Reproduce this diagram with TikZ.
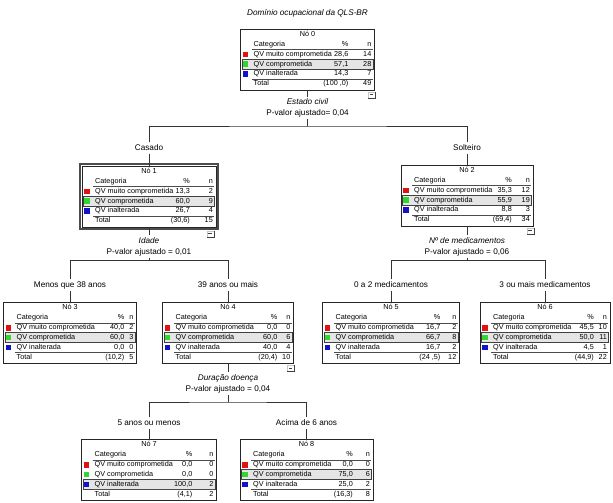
\documentclass[tikz,border=0pt]{standalone}
\usepackage{fontspec}
\setmainfont{Liberation Sans}
\usetikzlibrary{positioning}
\definecolor{cor1}{RGB}{224,18,18}
\definecolor{cor2}{RGB}{50,214,50}
\definecolor{cor3}{RGB}{18,18,200}
\newcommand{\tabfont}{\fontsize{7.25}{8}\selectfont}
\newcommand{\rotfont}{\fontsize{8.2}{9}\selectfont}
% #1 no, #2 topo, #3 largura, #4 coluna %, #5 linha modal, #6 dados
\newcommand{\tabno}[6]{%
  \node[noh,minimum width=#3pt] (n#1) at #2 {};
  \begin{scope}[shift={(n#1.north west)}]
    \draw[destaque] (1.5,15.5+9.8*#5-4.9) rectangle (#3-1.5,15.5+9.8*#5+4.9);
    \draw[regra] (11,20.5) -- (#3-2,20.5);
    \draw[regra] (11,50) -- (#3-2,50);
    \node[cel,anchor=center] (n#1t) at (#3/2,5.5) {Nó #1};
    \node[cel] (n#1c) at (13,15.5) {Categoria};
    \node[cel,anchor=east] (n#1p) at (#3-#4,15.5) {\%};
    \node[cel,anchor=east] (n#1n) at (#3-3,15.5) {n};
    \foreach \pc/\nn [count=\i] in {#6}{
      \ifnum\i<4
        \fill[cor\i] (2.3,15.5+9.8*\i-2.7) rectangle ++(5.4,5.4);
      \fi
      \node[cel] (n#1r\i) at (13,15.5+9.8*\i)
        {\ifcase\i\or QV muito comprometida\or QV comprometida\or QV inalterada\or Total\fi};
      \node[cel,anchor=east] (n#1p\i) at (#3-#4,15.5+9.8*\i) {\pc};
      \node[cel,anchor=east] (n#1n\i) at (#3-3,15.5+9.8*\i) {\nn};
    }
  \end{scope}}
\begin{document}
\begin{tikzpicture}[x=1pt,y=-1pt,
noh/.style={draw=black!85,line width=0.6pt,minimum height=61pt,anchor=north,inner sep=0pt,outer sep=0pt},
destaque/.style={fill=gray!20,draw=black!75,line width=0.5pt},
regra/.style={draw=black!70,line width=0.6pt},
cel/.style={font=\tabfont,inner sep=0pt,text height=5.3pt,text depth=1.4pt,anchor=west},
rot/.style={font=\rotfont,inner sep=1.5pt,text height=6pt,text depth=1.7pt},
var/.style={rot,font=\rotfont\itshape},
lig/.style={draw=black!80,line width=0.6pt},
menos/.style={draw=gray!45,minimum width=7pt,minimum height=6pt,inner sep=0pt,anchor=north east},
sel/.style={draw=black!70,line width=1.5pt}]
\useasboundingbox (0,0) rectangle (613,503);
\node[var] (tit) at (307.5,13.5) {Domínio ocupacional da QLS-BR};
\tabno{0}{(307.5,29)}{134}{26}{2}{28{,}6/14,57{,}1/28,14{,}3/7,(100 {,}0)/49}
\tabno{1}{(149,166)}{134}{26}{2}{13{,}3/2,60{,}0/9,26{,}7/4,(30{,}6)/15}
\tabno{2}{(467,165)}{132}{21}{2}{35{,}3/12,55{,}9/19,8{,}8/3,(69{,}4)/34}
\tabno{3}{(70,302.5)}{133}{12}{2}{40{,}0/2,60{,}0/3,0{,}0/0,(10{,}2)/5}
\tabno{4}{(228,302.5)}{131}{16}{2}{0{,}0/0,60{,}0/6,40{,}0/4,(20{,}4)/10}
\tabno{5}{(391,302.5)}{137}{19}{2}{16{,}7/2,66{,}7/8,16{,}7/2,(24 {,}5)/12}
\tabno{6}{(545,302.5)}{130}{16}{2}{45{,}5/10,50{,}0/11,4{,}5/1,(44{,}9)/22}
\tabno{7}{(149,439.5)}{135}{24}{3}{0{,}0/0,0{,}0/0,100{,}0/2,(4{,}1)/2}
\tabno{8}{(306.5,439.5)}{133}{20}{2}{0{,}0/0,75{,}0/6,25{,}0/2,(16{,}3)/8}
\draw[sel] ([shift={(-2pt,2pt)}]n1.north west) rectangle ([shift={(2pt,-2pt)}]n1.south east);
\node[menos] (m0) at ([xshift=1pt,yshift=-1.5pt]n0.south east) {};
\node[menos] (m1) at ([xshift=-2pt,yshift=-3.5pt]n1.south east) {};
\node[menos] (m2) at ([xshift=1pt,yshift=-1.5pt]n2.south east) {};
\node[menos] (m4) at ([xshift=1pt,yshift=-1.5pt]n4.south east) {};
\foreach \k in {0,1,2,4}{
  \draw[black!75,line width=0.6pt] (m\k.north east) |- (m\k.south west);
  \draw[black!75,line width=0.5pt] ([xshift=-2pt]m\k.center) -- ([xshift=1.2pt]m\k.center);
}
\node[var] (v0) at (307.5,102.5) {Estado civil};
\node[rot] (p0) at (307.5,113) {P-valor ajustado= 0,04};
\coordinate (h0) at (307.5,126);
\node[rot] (casado) at (149,148) {Casado};
\node[rot] (solteiro) at (467,148) {Solteiro};
\node[var] (v1) at (149,241) {Idade};
\node[rot] (p1) at (149,252) {P-valor ajustado = 0,01};
\coordinate (h1) at (149,260.5);
\node[rot] (menos38) at (70,285) {Menos que 38 anos};
\node[rot] (mais39) at (228,285) {39 anos ou mais};
\node[var] (v2) at (467,241) {Nº de medicamentos};
\node[rot] (p2) at (467,252) {P-valor ajustado = 0,06};
\coordinate (h2) at (467,260.5);
\node[rot] (med02) at (391,285) {0 a 2 medicamentos};
\node[rot] (med3) at (545,285) {3 ou mais medicamentos};
\node[var] (v4) at (228,378) {Duração doença};
\node[rot] (p4) at (228,389) {P-valor ajustado = 0,04};
\coordinate (h4) at (228,402);
\node[rot] (anos5) at (149,423) {5 anos ou menos};
\node[rot] (anos6) at (306.5,423) {Acima de 6 anos};
\draw[lig] (n0) -- (v0);
\draw[lig] (p0) -- (h0);
\draw[lig] (casado) |- (h0) -| (solteiro);
\draw[lig] (casado) -- (n1);
\draw[lig] (solteiro) -- (n2);
\draw[lig] (n1) -- (v1);
\draw[lig] (p1) -- (h1);
\draw[lig] (menos38) |- (h1) -| (mais39);
\draw[lig] (menos38) -- (n3);
\draw[lig] (mais39) -- (n4);
\draw[lig] (n2) -- (v2);
\draw[lig] (p2) -- (h2);
\draw[lig] (med02) |- (h2) -| (med3);
\draw[lig] (med02) -- (n5);
\draw[lig] (med3) -- (n6);
\draw[lig] (n4) -- (v4);
\draw[lig] (p4) -- (h4);
\draw[lig] (anos5) |- (h4) -| (anos6);
\draw[lig] (anos5) -- (n7);
\draw[lig] (anos6) -- (n8);
\end{tikzpicture}
\end{document}
